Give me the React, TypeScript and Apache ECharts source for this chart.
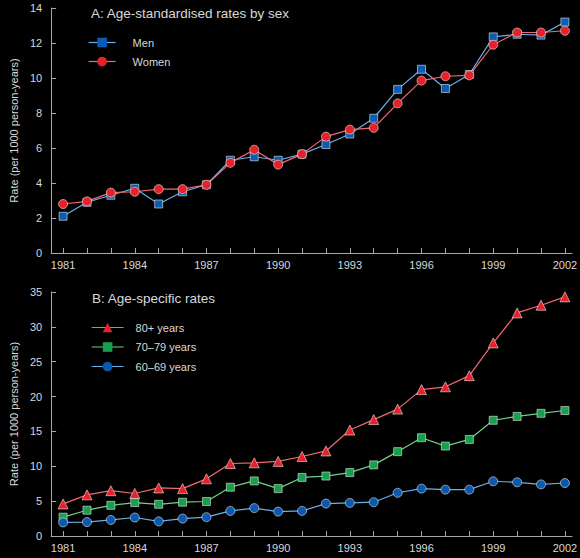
import React, { useEffect, useRef } from "react";
import * as echarts from "echarts";

const years = [1981, 1982, 1983, 1984, 1985, 1986, 1987, 1988, 1989, 1990, 1991, 1992, 1993, 1994, 1995, 1996, 1997, 1998, 1999, 2000, 2001, 2002];
const yearLabels = [1981, 1984, 1987, 1990, 1993, 1996, 1999, 2002];

const men = [2.1, 2.9, 3.3, 3.7, 2.8, 3.5, 3.9, 5.3, 5.5, 5.3, 5.65, 6.2, 6.8, 7.7, 9.35, 10.5, 9.4, 10.2, 12.35, 12.5, 12.45, 13.2];
const women = [2.8, 2.95, 3.45, 3.5, 3.65, 3.65, 3.9, 5.15, 5.9, 5.05, 5.65, 6.65, 7.05, 7.15, 8.55, 9.85, 10.1, 10.15, 11.9, 12.6, 12.6, 12.7];

const age80 = [4.6, 5.9, 6.5, 6.1, 6.9, 6.8, 8.2, 10.4, 10.5, 10.7, 11.4, 12.2, 15.2, 16.7, 18.2, 21.0, 21.4, 23.0, 27.7, 32.0, 33.1, 34.3];
const age70 = [2.7, 3.7, 4.4, 4.8, 4.55, 4.85, 4.95, 7.0, 7.9, 6.8, 8.4, 8.6, 9.1, 10.2, 12.1, 14.1, 12.9, 13.85, 16.6, 17.15, 17.6, 18.0];
const age60 = [1.95, 2.0, 2.3, 2.65, 2.1, 2.5, 2.7, 3.6, 4.0, 3.5, 3.6, 4.65, 4.75, 4.85, 6.2, 6.8, 6.65, 6.65, 7.85, 7.7, 7.4, 7.6];

const pairs = (vals: number[]) => years.map((y, i) => [y, vals[i]]);

const textColor = "#d8d8d8";
const axisColor = "#a8a8a8";
const font = "Liberation Sans, Arial, sans-serif";

const seriesStyles = [
  { name: "Men", symbol: "rect", size: 8, fill: "#0b5cb5", line: "#6aaee8" },
  { name: "Women", symbol: "circle", size: 9, fill: "#e8202a", line: "#f26a72" },
  { name: "80+ years", symbol: "triangle", size: 10, fill: "#e8202a", line: "#f26a72" },
  { name: "70–79 years", symbol: "rect", size: 8, fill: "#17a04c", line: "#6fd08c" },
  { name: "60–69 years", symbol: "circle", size: 9, fill: "#0b58b0", line: "#6aaee8" },
];

export default function App() {
  const ref = useRef<HTMLDivElement>(null);
  useEffect(() => {
    if (!ref.current) return;
    document.body.style.margin = "0";
    document.body.style.background = "#000";
    const chart = echarts.init(ref.current, null, { renderer: "svg" });
    const xAxisBase = (gridIndex: number) => ({
      type: "value",
      gridIndex,
      min: 1980.5,
      max: 2002.3,
      axisLine: { show: true, lineStyle: { color: axisColor, width: 1 } },
      axisTick: { show: true, inside: true, length: 5, customValues: years, lineStyle: { color: axisColor } },
      axisLabel: {
        show: true,
        customValues: yearLabels,
        formatter: (v: number) => String(v),
        color: textColor,
        fontSize: 11,
        fontFamily: font,
        margin: 6,
      },
      splitLine: { show: false },
    });
    const yAxisBase = (gridIndex: number, max: number, interval: number) => ({
      type: "value",
      gridIndex,
      min: 0,
      max,
      interval,
      name: "Rate (per 1000 person-years)",
      nameLocation: "middle",
      nameGap: 27,
      nameTextStyle: { color: textColor, fontSize: 11, fontFamily: font },
      axisLine: { show: true, lineStyle: { color: axisColor, width: 1 } },
      axisTick: { show: true, inside: true, length: 5, lineStyle: { color: axisColor } },
      axisLabel: { color: textColor, fontSize: 11, fontFamily: font, margin: 9 },
      splitLine: { show: false },
    });
    const mkSeries = (i: number, vals: number[], idx: number) => {
      const s = seriesStyles[i];
      return {
        name: s.name,
        type: "line",
        xAxisIndex: idx,
        yAxisIndex: idx,
        data: pairs(vals),
        symbol: s.symbol,
        symbolSize: s.size,
        showAllSymbol: true,
        lineStyle: { color: s.line, width: 1.2 },
        itemStyle: { color: s.fill, borderColor: "#e8e8e8", borderWidth: 0.6 },
      };
    };
    const legendItem = (i: number) => {
      const s = seriesStyles[i];
      return {
        name: s.name,
        itemStyle: { color: s.fill, borderColor: s.fill, borderWidth: 0 },
        lineStyle: { color: s.line, width: 1.2 },
      };
    };
    chart.setOption({
      animation: false,
      backgroundColor: "#000000",
      title: [
        { text: "A: Age-standardised rates by sex", left: 91, top: 6, textStyle: { color: textColor, fontSize: 13.5, fontWeight: "normal", fontFamily: font }, padding: 0 },
        { text: "B: Age-specific rates", left: 92, top: 291, textStyle: { color: textColor, fontSize: 13.5, fontWeight: "normal", fontFamily: font }, padding: 0 },
      ],
      legend: [
        {
          data: [legendItem(0), legendItem(1)],
          orient: "vertical",
          left: 88,
          top: 37,
          padding: 0,
          itemWidth: 27,
          itemHeight: 12,
          itemGap: 8,
          textStyle: { color: textColor, fontSize: 11, fontFamily: font, padding: [0, 0, 0, 12] },
        },
        {
          data: [legendItem(2), legendItem(3), legendItem(4)],
          orient: "vertical",
          left: 91,
          top: 322,
          padding: 0,
          itemWidth: 32,
          itemHeight: 12,
          itemGap: 8.5,
          textStyle: { color: textColor, fontSize: 11, fontFamily: font, padding: [0, 0, 0, 7] },
        },
      ],
      grid: [
        { left: 41, right: 4, top: 8, height: 245, containLabel: false },
        { left: 41, right: 4, top: 292, height: 244, containLabel: false },
      ],
      xAxis: [xAxisBase(0), xAxisBase(1)],
      yAxis: [yAxisBase(0, 14, 2), yAxisBase(1, 35, 5)],
      series: [
        mkSeries(0, men, 0),
        mkSeries(1, women, 0),
        mkSeries(2, age80, 1),
        mkSeries(3, age70, 1),
        mkSeries(4, age60, 1),
      ],
    });
    return () => chart.dispose();
  }, []);
  return <div ref={ref} style={{ position: "absolute", left: 0, top: 0, width: 580, height: 558, background: "#000" }} />;
}
